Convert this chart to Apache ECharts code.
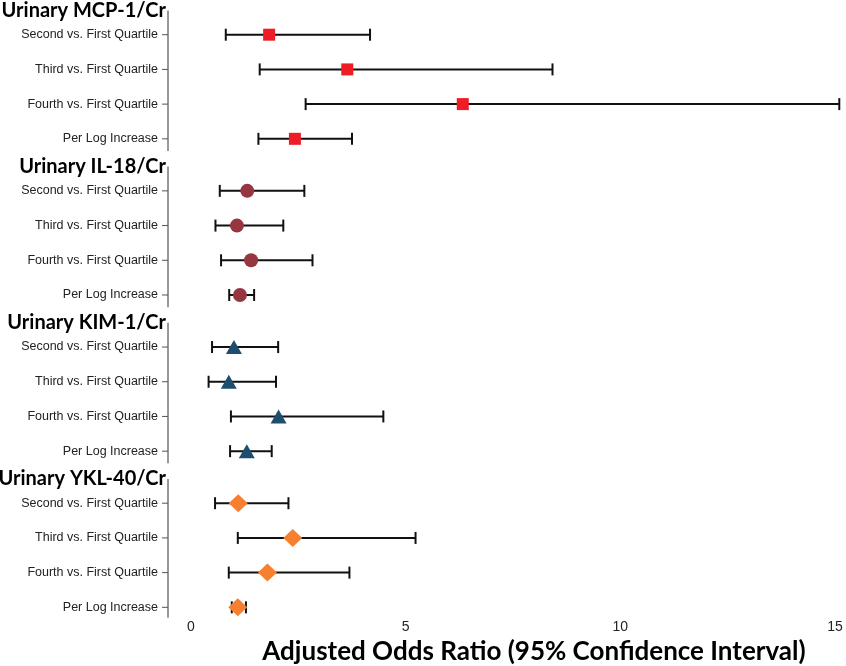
<!DOCTYPE html>
<html>
<head>
<meta charset="utf-8">
<script src="https://cdn.jsdelivr.net/npm/echarts@6/dist/echarts.min.js"></script>
<style>
  html, body { margin: 0; padding: 0; background: #fff; }
  #chart { width: 846px; height: 666px; }
</style>
</head>
<body>
<div id="chart"></div>
<script>
// 分组与行标签
const groupNames = ['Urinary MCP-1/Cr', 'Urinary IL-18/Cr', 'Urinary KIM-1/Cr', 'Urinary YKL-40/Cr'];
const rowNames = ['Second vs. First Quartile', 'Third vs. First Quartile', 'Fourth vs. First Quartile', 'Per Log Increase'];

// 比值比及 95% 置信区间
const mcpOR = [1.82, 3.64, 6.33, 2.42];
const mcpLow = [0.81, 1.60, 2.67, 1.57];
const mcpHigh = [4.17, 8.42, 15.10, 3.75];

const il18OR = [1.31, 1.07, 1.40, 1.14];
const il18Low = [0.67, 0.57, 0.70, 0.89];
const il18High = [2.64, 2.15, 2.83, 1.47];

const kimOR = [1.00, 0.88, 2.04, 1.30];
const kimLow = [0.49, 0.41, 0.93, 0.91];
const kimHigh = [2.03, 1.98, 4.48, 1.88];

const yklOR = [1.10, 2.37, 1.78, 1.09];
const yklLow = [0.56, 1.09, 0.88, 0.95];
const yklHigh = [2.27, 5.23, 3.69, 1.28];

const refValue = 1; // 参考线 OR = 1
const xTickMax = 15;
const xTickStep = 5;
const xTitle = 'Adjusted Odds Ratio (95% Confidence Interval)';

const groupStep = 4.5; // 每组在纵轴上的跨度
const headerOffset = 0.7; // 组标题位于第一行之上

const groups = [
  { or: mcpOR, low: mcpLow, high: mcpHigh, symbol: 'rect', size: 12, color: '#EE1C25' },
  { or: il18OR, low: il18Low, high: il18High, symbol: 'circle', size: 14, color: '#953641' },
  { or: kimOR, low: kimLow, high: kimHigh, symbol: 'triangle', size: [16, 14], color: '#1E4E6F' },
  { or: yklOR, low: yklLow, high: yklHigh, symbol: 'diamond', size: [19, 18], color: '#F6802F' },
];

const rowPos = (g, r) => g * groupStep + r;

const labelData = [];
const barData = [];
groups.forEach((grp, g) => {
  const headerPos = rowPos(g, 0) - headerOffset;
  const segEnd = g < groups.length - 1 ? rowPos(g + 1, 0) - headerOffset - 0.45 : rowPos(g, rowNames.length - 1) + 0.3;
  labelData.push({ value: [0, headerPos, segEnd], name: groupNames[g], kind: 'header' });
  rowNames.forEach((name, r) => {
    labelData.push({ value: [0, rowPos(g, r), 0], name, kind: 'row' });
    barData.push([grp.low[r], grp.high[r], rowPos(g, r)]);
  });
});

const axisOffset = 23; // 纵轴线距离绘图区左侧

const chart = echarts.init(document.getElementById('chart'));

const renderLabel = (params, api) => {
  const item = labelData[params.dataIndex];
  const axisX = params.coordSys.x - axisOffset;
  const y = api.coord([0, api.value(1)])[1];
  if (item.kind === 'header') {
    const yEnd = api.coord([0, api.value(2)])[1];
    return {
      type: 'group',
      children: [
        { type: 'line', shape: { x1: axisX, y1: y, x2: axisX, y2: yEnd }, style: { stroke: '#777', lineWidth: 1.5 } },
        {
          type: 'text',
          style: {
            x: axisX - 2, y, text: item.name, align: 'right', verticalAlign: 'middle',
            font: 'bold 20px Lato', fill: '#000',
          },
        },
      ],
    };
  }
  return {
    type: 'group',
    children: [
      { type: 'line', shape: { x1: axisX - 6, y1: y, x2: axisX, y2: y }, style: { stroke: '#555', lineWidth: 1 } },
      {
        type: 'text',
        style: {
          x: axisX - 10, y, text: item.name, align: 'right', verticalAlign: 'middle',
          font: '12.5px "Liberation Sans"', fill: '#222',
        },
      },
    ],
  };
};

const renderBar = (params, api) => {
  const p1 = api.coord([api.value(0), api.value(2)]);
  const p2 = api.coord([api.value(1), api.value(2)]);
  const h = 6;
  const style = { stroke: '#111', lineWidth: 2 };
  return {
    type: 'group',
    children: [
      { type: 'line', shape: { x1: p1[0], y1: p1[1], x2: p2[0], y2: p2[1] }, style },
      { type: 'line', shape: { x1: p1[0], y1: p1[1] - h, x2: p1[0], y2: p1[1] + h }, style },
      { type: 'line', shape: { x1: p2[0], y1: p2[1] - h, x2: p2[0], y2: p2[1] + h }, style },
    ],
  };
};

const pointSeries = groups.map((grp, g) => ({
  type: 'scatter',
  symbol: grp.symbol,
  symbolSize: grp.size,
  itemStyle: { color: grp.color, opacity: 1 },
  data: grp.or.map((v, r) => [v, rowPos(g, r)]),
  z: 5,
}));

const option = {
  animation: false,
  grid: { left: 191, right: 11, top: 0, bottom: 50, outerBoundsMode: 'none' },
  xAxis: {
    type: 'value',
    min: 0,
    max: xTickMax,
    interval: xTickStep,
    axisLine: { show: false },
    axisTick: { show: false },
    splitLine: { show: false },
    axisLabel: { fontFamily: 'Liberation Sans', fontSize: 14, color: '#222', margin: 4 },
    name: xTitle,
    nameLocation: 'middle',
    nameGap: 17,
    nameTextStyle: { fontFamily: 'Lato', fontWeight: 'bold', fontSize: 26, color: '#000', padding: [0, 0, 0, 42] },
  },
  yAxis: {
    type: 'value',
    inverse: true,
    min: -1,
    max: 16.75,
    axisLine: { show: false },
    axisTick: { show: false },
    axisLabel: { show: false },
    splitLine: { show: false },
  },
  series: [
    {
      type: 'custom',
      renderItem: renderLabel,
      clip: false,
      data: labelData.map(d => d.value),
      silent: true,
    },
    {
      type: 'custom',
      renderItem: renderBar,
      data: barData,
      clip: false,
      z: 2,
      markLine: {
        silent: true,
        symbol: 'none',
        label: { show: false },
        lineStyle: { color: '#E3232B', width: 2, type: 'solid' },
        data: [[
          { coord: [refValue, -headerOffset] },
          { coord: [refValue, rowPos(groups.length - 1, rowNames.length - 1) + 0.3] },
        ]],
        z: 3,
      },
    },
    ...pointSeries,
  ],
};

chart.setOption(option);
</script>
</body>
</html>
